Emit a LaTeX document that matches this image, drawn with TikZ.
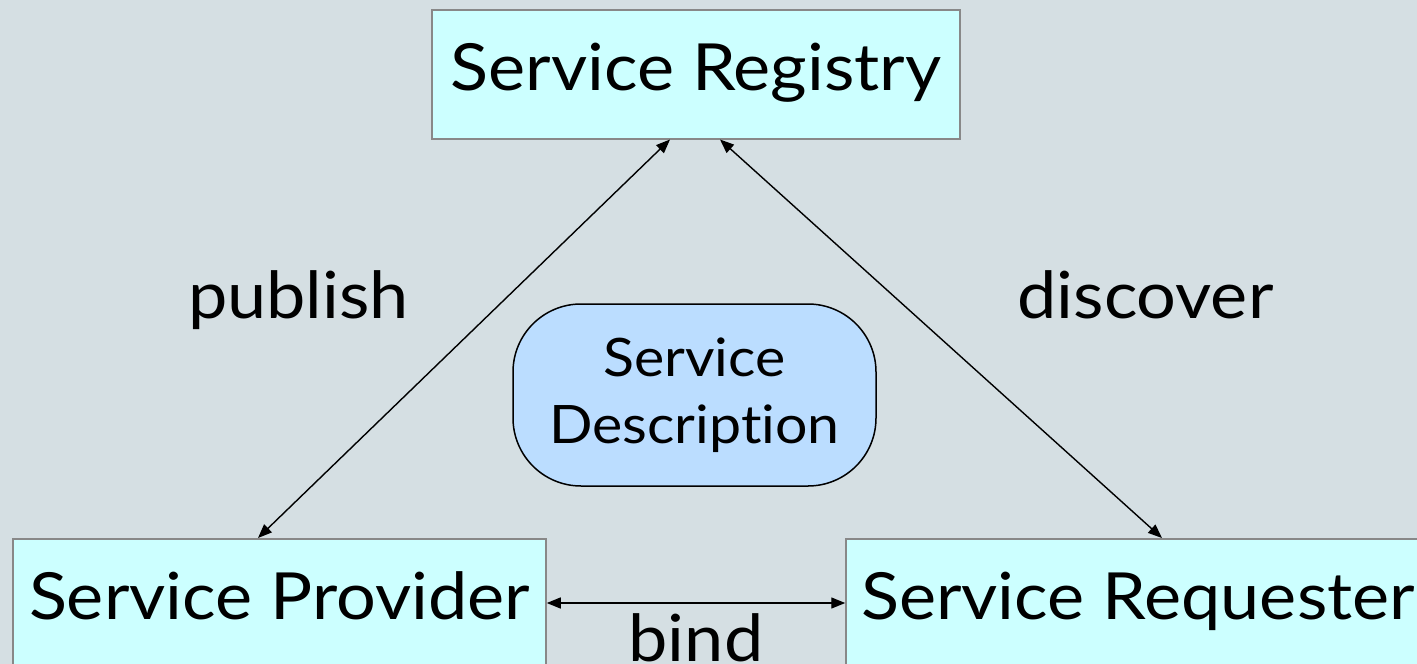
\documentclass[tikz,border=0pt]{standalone}
\usepackage{fontspec}
\setmainfont[FakeStretch=1.08, Ligatures={NoCommon}]{Lato}
\usetikzlibrary{arrows.meta}
\definecolor{bgcol}{HTML}{D5DFE3}
\definecolor{boxcol}{HTML}{CCFFFF}
\definecolor{desccol}{HTML}{BBDDFF}
\definecolor{edgecol}{HTML}{888888}
\tikzset{
  rolebox/.style={draw=edgecol, line width=1.5pt, fill=boxcol, inner sep=0pt,
    text height=81pt, font=\fontsize{65}{78}\selectfont},
  descbox/.style={draw=black, line width=1.5pt, fill=desccol, rounded corners=68pt,
    minimum width=363pt, minimum height=182pt, inner sep=0pt, align=center,
    font=\fontsize{53}{67}\selectfont},
  lbl/.style={anchor=base, inner sep=0pt, font=\fontsize{65}{78}\selectfont},
  link/.style={line width=1.4pt, {Triangle[length=14pt,width=11pt]}-{Triangle[length=14pt,width=11pt]}}
}
\begin{document}
\begin{tikzpicture}[x=1pt, y=-1pt]
  \useasboundingbox (0,0) rectangle (1417,664);
  \clip (0,0) rectangle (1417,664);
  \fill[bgcol] (0,0) rectangle (1417,664);

  % the three roles
  \node[rolebox, anchor=north, minimum width=528pt, text depth=48pt] (reg) at (696,9) {Service Registry};
  \node[rolebox, anchor=north, minimum width=533pt, text depth=100pt] (prov) at (279.5,538) {Service Provider};
  \node[rolebox, anchor=north, minimum width=584pt, text depth=100pt] (req) at (1138,538) {Service Requester};

  % the shared description
  \node[descbox] (desc) at (694.5,395) {Service\\Description};

  % interactions
  \draw[link] ([xshift=-26pt]reg.south) -- ([xshift=-21.5pt]prov.north);
  \draw[link] ([xshift=24pt]reg.south) -- ([xshift=24pt]req.north);
  \draw[link] ([yshift=-65pt]prov.north east) -- ([yshift=-65pt]req.north west);

  % interaction labels
  \node[lbl] (publish) at (298.5,318) {publish};
  \node[lbl] (discover) at (1145.5,318) {discover};
  \node[lbl] (bind) at (696,661) {bind};
\end{tikzpicture}
\end{document}
